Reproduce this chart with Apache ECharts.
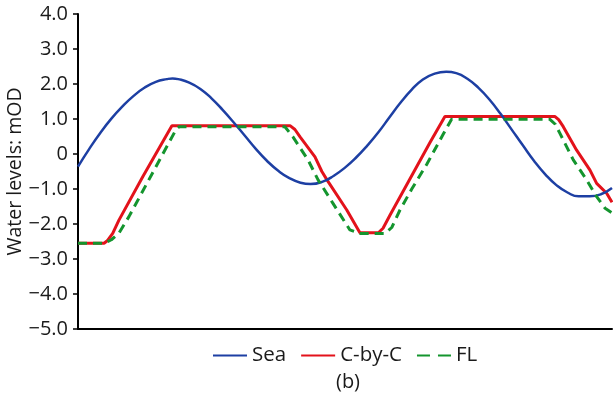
<!DOCTYPE html>
<html>
<head>
<meta charset="utf-8">
<script src="https://cdn.jsdelivr.net/npm/echarts@6/dist/echarts.min.js"></script>
<style>
html,body{margin:0;padding:0;background:#fff;}
#chart{width:613px;height:403px;}
</style>
</head>
<body>
<div id="chart"></div>
<script>
// Time (hours) and water levels (mOD)
const seaTime  = [0, 0.5, 1.0, 1.5, 2.0, 2.5, 3.0, 3.5, 4.0, 4.25, 4.5, 5.0, 5.5, 6.0, 6.5, 7.0, 7.5, 8.0, 8.5, 9.0, 9.5, 10.0, 10.45, 11.0, 11.5, 12.0, 12.5, 13.0, 13.5, 14.0, 14.5, 15.0, 15.5, 16.0, 16.55, 17.0, 17.5, 18.0, 18.5, 19.0, 19.5, 20.0, 20.5, 21.0, 21.5, 22.0, 22.5, 23.0, 23.5, 24.0];
const seaLevel = [-0.36, 0.14, 0.60, 1.01, 1.36, 1.66, 1.90, 2.06, 2.14, 2.16, 2.14, 2.04, 1.86, 1.59, 1.26, 0.90, 0.52, 0.14, -0.20, -0.48, -0.69, -0.82, -0.86, -0.79, -0.62, -0.39, -0.10, 0.24, 0.62, 1.05, 1.47, 1.84, 2.13, 2.29, 2.35, 2.31, 2.15, 1.89, 1.55, 1.14, 0.69, 0.24, -0.20, -0.58, -0.89, -1.10, -1.21, -1.21, -1.15, -0.97];

const cbycTime  = [0, 1.17, 1.33, 1.56, 1.84, 2.91, 4.22, 9.53, 9.75, 9.98, 10.65, 10.96, 11.19, 12.08, 12.67, 13.50, 13.71, 14.02, 15.82, 16.49, 21.44, 21.60, 21.81, 22.41, 23.01, 23.31, 23.76, 24.00];
const cbycLevel = [-2.55, -2.55, -2.47, -2.27, -1.89, -0.65, 0.81, 0.81, 0.70, 0.49, -0.08, -0.50, -0.74, -1.60, -2.25, -2.25, -2.12, -1.75, 0.33, 1.07, 1.07, 0.98, 0.78, 0.11, -0.46, -0.84, -1.12, -1.38];

const flTime  = [0, 1.17, 1.50, 1.84, 2.29, 3.42, 4.40, 4.55, 9.30, 9.66, 10.34, 10.79, 11.46, 12.22, 12.67, 13.80, 14.10, 14.47, 15.00, 15.67, 16.40, 16.79, 21.21, 21.45, 21.66, 22.26, 22.86, 23.31, 23.69, 24.00];
const flLevel = [-2.55, -2.55, -2.45, -2.26, -1.79, -0.46, 0.69, 0.78, 0.78, 0.49, -0.17, -0.74, -1.41, -2.17, -2.27, -2.27, -2.10, -1.60, -1.00, -0.30, 0.55, 0.99, 0.99, 0.85, 0.59, -0.17, -0.74, -1.22, -1.55, -1.68];

const seriesNames = ['Sea', 'C-by-C', 'FL'];
const yMin = -5, yMax = 4, yStep = 1;

function pairs(xs, ys){ return xs.map((x,i)=>[x, ys[i]]); }

const FONT = 'Open Sans';
const TXT = '#1a1a1a';
const chart = echarts.init(document.getElementById('chart'), null, {renderer:'canvas'});
chart.setOption({
  animation:false,
  backgroundColor:'#ffffff',
  grid:{left:78, right:1, top:14, bottom:74, containLabel:false, outerBoundsMode:'none'},
  xAxis:{
    type:'value', min:0, max:24,
    axisLine:{show:true, onZero:false, lineStyle:{color:'#000', width:2}},
    axisTick:{show:false}, axisLabel:{show:false}, splitLine:{show:false}
  },
  yAxis:{
    type:'value', min:yMin, max:yMax, interval:yStep,
    name:'Water levels: mOD', nameLocation:'middle', nameGap:53, nameMoveOverlap:false,
    nameTextStyle:{fontFamily:FONT, fontSize:19.5, color:TXT},
    axisLine:{show:true, lineStyle:{color:'#000', width:2}},
    axisTick:{show:true, length:5, lineStyle:{color:'#000', width:1.5}},
    axisLabel:{
      margin:10, fontFamily:FONT, fontSize:20, color:TXT,
      formatter:v => v === 0 ? '0' : (v < 0 ? '\u2212' + Math.abs(v).toFixed(1) : v.toFixed(1))
    },
    splitLine:{show:false}
  },
  legend:{
    data:[
      {name:seriesNames[0]},
      {name:seriesNames[1]},
      {name:seriesNames[2], lineStyle:{type:[13,8]}}
    ],
    top:340, left:207,
    itemWidth:34, itemHeight:10, itemGap:14,
    itemStyle:{opacity:0},
    textStyle:{fontFamily:FONT, fontSize:20.5, color:TXT}
  },
  title:{
    text:'(b)', left:343, textAlign:'center', top:367,
    textStyle:{fontFamily:FONT, fontSize:20, fontWeight:'normal', color:TXT}
  },
  series:[
    {name:seriesNames[0], type:'line', data:pairs(seaTime, seaLevel), smooth:true, symbol:'none',
     lineStyle:{color:'#1d3fa3', width:2.5}, itemStyle:{color:'#1d3fa3'}, z:3},
    {name:seriesNames[1], type:'line', data:pairs(cbycTime, cbycLevel), symbol:'none',
     lineStyle:{color:'#e3121b', width:3}, itemStyle:{color:'#e3121b'}, z:2},
    {name:seriesNames[2], type:'line', data:pairs(flTime, flLevel), symbol:'none',
     lineStyle:{color:'#14952e', width:3, type:[9,6]}, itemStyle:{color:'#14952e'}, z:4}
  ]
});
</script>
</body>
</html>
